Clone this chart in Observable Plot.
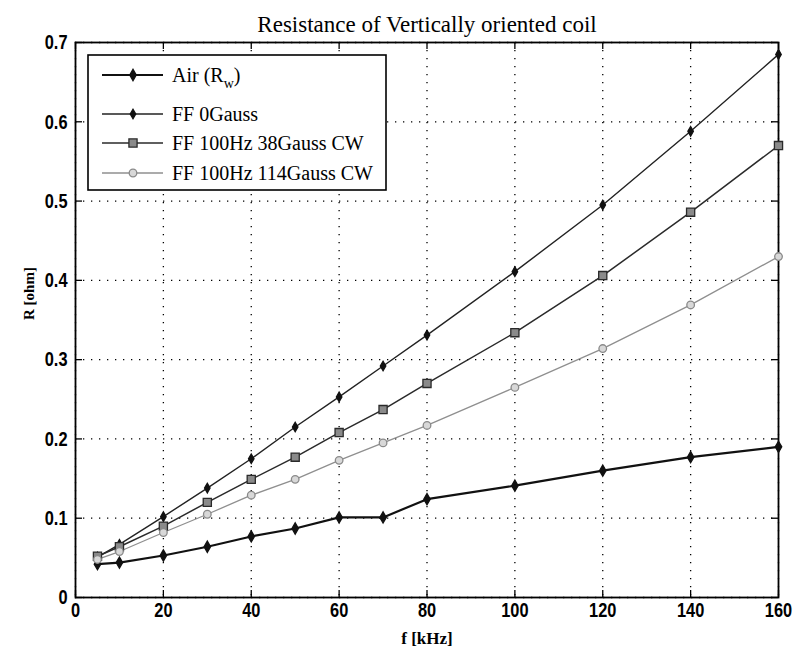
<!DOCTYPE html>
<html>
<head>
<meta charset="utf-8">
<script src="https://cdn.jsdelivr.net/npm/d3@7"></script>
<script src="https://cdn.jsdelivr.net/npm/@observablehq/plot@0.6"></script>
<style>
  html, body { margin: 0; padding: 0; background: white; }
</style>
</head>
<body>
<div id="chart"></div>
<script>
// Frequency (kHz) and measured coil resistance (ohm) for each condition
const freq = [5, 10, 20, 30, 40, 50, 60, 70, 80, 100, 120, 140, 160];
const airRw = [0.042, 0.044, 0.053, 0.064, 0.077, 0.087, 0.101, 0.101, 0.124, 0.141, 0.160, 0.177, 0.190];
const ff0Gauss = [0.051, 0.067, 0.102, 0.138, 0.175, 0.215, 0.253, 0.292, 0.331, 0.411, 0.495, 0.588, 0.685];
const ff38Gauss = [0.052, 0.064, 0.090, 0.120, 0.149, 0.177, 0.208, 0.237, 0.270, 0.334, 0.406, 0.486, 0.570];
const ff114Gauss = [0.048, 0.058, 0.082, 0.105, 0.129, 0.149, 0.173, 0.195, 0.217, 0.265, 0.314, 0.369, 0.430];

const seriesNames = ["Air (R_w)", "FF 0Gauss", "FF 100Hz 38Gauss CW", "FF 100Hz 114Gauss CW"];
const xTicks = [0, 20, 40, 60, 80, 100, 120, 140, 160];
const yTicks = [0, 0.1, 0.2, 0.3, 0.4, 0.5, 0.6, 0.7];
const yTickLabels = ["0", "0.1", "0.2", "0.3", "0.4", "0.5", "0.6", "0.7"];

const titleText = "Resistance of Vertically oriented coil";
const xLabel = "f [kHz]";
const yLabel = "R [ohm]";

// Visual style for each series
const styles = [
  {stroke: "#111", width: 2.2, symbol: "diamond", r: 3.4, fill: "#111", dotStroke: "#111"},
  {stroke: "#222", width: 1.4, symbol: "diamond", r: 2.9, fill: "#111", dotStroke: "#111"},
  {stroke: "#2a2a2a", width: 1.5, symbol: "square", r: 4.6, fill: "#8a8a8a", dotStroke: "#2a2a2a"},
  {stroke: "#8f8f8f", width: 1.3, symbol: "circle", r: 3.8, fill: "#d8d8d8", dotStroke: "#8a8a8a"}
];

const allSeries = [airRw, ff0Gauss, ff38Gauss, ff114Gauss];
const rows = allSeries.map(vals => freq.map((f, i) => ({f, r: vals[i]})));

const W = 795, H = 654;
const mL = 75, mR = 17, mT = 42, mB = 57;
const frameW = W - mL - mR, frameH = H - mT - mB;
const tickLen = 7;

const serif = "'Liberation Serif', 'Times New Roman', serif";
const tickFont = "'Liberation Sans', Arial, sans-serif";
const gridStyle = {stroke: "black", strokeWidth: 1.3, strokeDasharray: "1.3,6.7"};
const tickStyle = {stroke: "black", strokeWidth: 1.3};

const lineMarks = [];
rows.forEach((data, k) => {
  const s = styles[k];
  lineMarks.push(Plot.line(data, {x: "f", y: "r", stroke: s.stroke, strokeWidth: s.width}));
});
rows.forEach((data, k) => {
  const s = styles[k];
  lineMarks.push(Plot.dot(data, {x: "f", y: "r", symbol: () => s.symbol, r: s.r,
    fill: s.fill, stroke: s.dotStroke, strokeWidth: 1.3}));
});

const chart = Plot.plot({
  width: W,
  height: H,
  marginLeft: mL,
  marginRight: mR,
  marginTop: mT,
  marginBottom: mB,
  style: {background: "white", color: "black", overflow: "visible"},
  symbol: {type: "identity"},
  x: {domain: [0, 160], axis: null},
  y: {domain: [0, 0.7], axis: null},
  marks: [
    // dotted grid
    Plot.ruleX(xTicks, {x: d => d, ...gridStyle}),
    Plot.ruleY(yTicks, {y: d => d, ...gridStyle}),
    // inward tick marks on all four sides
    Plot.ruleX(xTicks, {x: d => d, insetTop: frameH - tickLen, ...tickStyle}),
    Plot.ruleX(xTicks, {x: d => d, insetBottom: frameH - tickLen, ...tickStyle}),
    Plot.ruleY(yTicks, {y: d => d, insetRight: frameW - tickLen, ...tickStyle}),
    Plot.ruleY(yTicks, {y: d => d, insetLeft: frameW - tickLen, ...tickStyle}),
    Plot.frame({stroke: "black", strokeWidth: 1.8}),
    // tick labels
    Plot.text(xTicks, {x: d => d, text: d => String(d), frameAnchor: "bottom", dy: 19,
      fontSize: 21, fontWeight: "bold", fontFamily: tickFont, className: "tick-x"}),
    Plot.text(yTicks, {y: d => d, text: (d, i) => yTickLabels[i], frameAnchor: "left", dx: -8,
      textAnchor: "end", fontSize: 21, fontWeight: "bold", fontFamily: tickFont, className: "tick-y"}),
    ...lineMarks,
    Plot.text([xLabel], {frameAnchor: "bottom", dy: 46, fontSize: 17, fontWeight: "bold",
      fontFamily: serif}),
    Plot.text([yLabel], {frameAnchor: "left", dx: -46, rotate: -90, fontSize: 15,
      fontWeight: "bold", fontFamily: serif}),
    Plot.text([titleText], {frameAnchor: "top", dy: -27, fontSize: 23, fontFamily: serif})
  ]
});

document.getElementById("chart").appendChild(chart);

const svg = d3.select(chart);

// narrow the tick-label digits horizontally
svg.selectAll(".tick-x text, .tick-y text").each(function() {
  const el = d3.select(this);
  const tr = el.attr("transform");
  if (tr) {
    el.attr("transform", tr + " scale(0.78,1)");
  } else {
    const x = +el.attr("x") || 0, y = +el.attr("y") || 0;
    el.attr("x", null).attr("y", null).attr("transform", `translate(${x},${y}) scale(0.78,1)`);
  }
});

// Legend box in the upper-left corner of the frame
const lg = svg.append("g").attr("transform", `translate(${mL + 13},${mT + 13})`)
  .attr("text-anchor", "start");
const boxW = 298, boxH = 135;
lg.append("rect").attr("width", boxW).attr("height", boxH)
  .attr("fill", "white").attr("stroke", "black").attr("stroke-width", 1.6);
const itemY = [20, 59, 88, 118];
const symbolMap = {diamond: d3.symbolDiamond, square: d3.symbolSquare, circle: d3.symbolCircle};
seriesNames.forEach((name, k) => {
  const s = styles[k];
  const g = lg.append("g").attr("transform", `translate(0,${itemY[k]})`);
  g.append("line").attr("x1", 14).attr("x2", 75).attr("y1", 0).attr("y2", 0)
    .attr("stroke", s.stroke).attr("stroke-width", s.width);
  g.append("path")
    .attr("d", d3.symbol(symbolMap[s.symbol], s.r * s.r * Math.PI)())
    .attr("transform", "translate(45,0)")
    .attr("fill", s.fill).attr("stroke", s.dotStroke).attr("stroke-width", 1.3);
  const t = g.append("text").attr("x", 84).attr("y", 0).attr("dy", "0.35em")
    .attr("text-anchor", "start")
    .attr("font-family", serif).attr("font-size", 20).attr("fill", "black");
  if (name.includes("_")) {
    const [base, sub] = name.split("_");
    t.append("tspan").text(base);
    t.append("tspan").attr("font-size", 14).attr("dy", "0.45em").text(sub.replace(")", ""));
    t.append("tspan").attr("dy", "-0.3em").text(")");
  } else {
    t.text(name);
  }
});
</script>
</body>
</html>
